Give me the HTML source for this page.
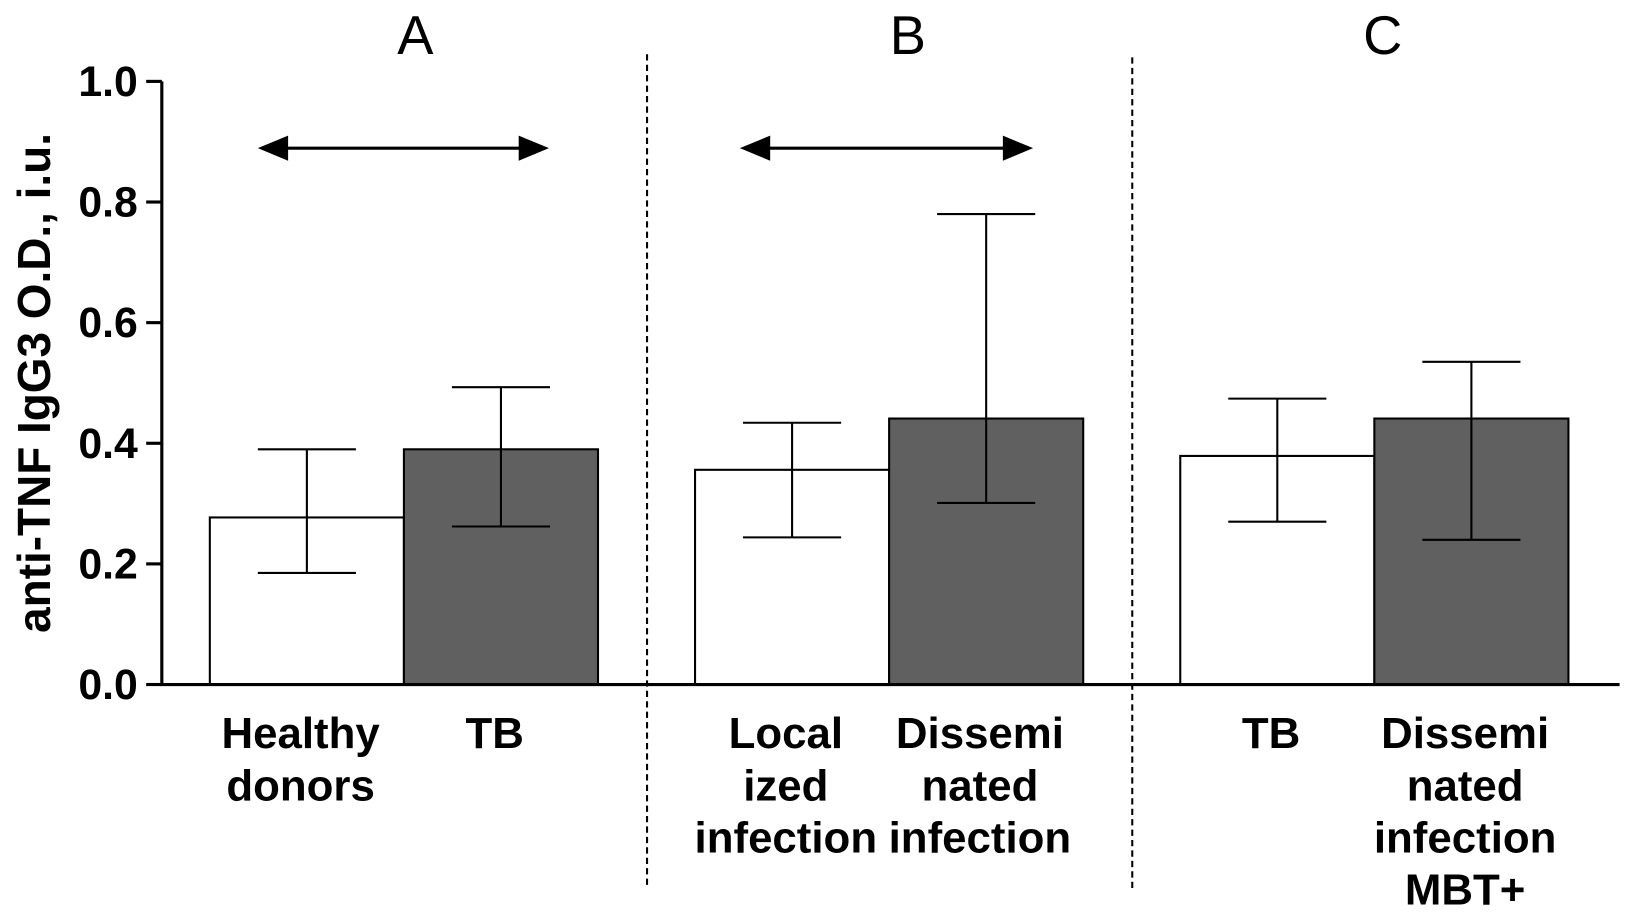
<!DOCTYPE html>
<html><head><meta charset="utf-8"><style>
html,body{margin:0;padding:0;background:#fff}
svg{display:block}
text{font-family:"Liberation Sans",Arial,sans-serif}
</style></head><body>
<svg id="chart" width="1628" height="912" viewBox="0 0 1560 874" xmlns="http://www.w3.org/2000/svg">
<g id="g"></g>
</svg>
<script>
const categories = ["Healthy donors","TB","Localized infection","Disseminated infection","TB","Disseminated infection MBT+"];
const labelLines = [["Healthy","donors"],["TB"],["Local","ized","infection"],["Dissemi","nated","infection"],["TB"],["Dissemi","nated","infection","MBT+"]];
const means = [0.277,0.39,0.356,0.441,0.379,0.441];
const errLow = [0.185,0.262,0.244,0.301,0.270,0.240];
const errHigh = [0.39,0.493,0.434,0.780,0.474,0.535];
const fills = ["#fff","#606060","#fff","#606060","#fff","#606060"];
const yTicks = [0,0.2,0.4,0.6,0.8,1.0];
const yTickLabels = ["0.0","0.2","0.4","0.6","0.8","1.0"];
const panels = ["A","B","C"];

const NS="http://www.w3.org/2000/svg";
const g=document.getElementById('g');
const y0=656, y1=78, axX=155;
const yS=v=>y0-(y0-y1)*v;
const barLeft=[201,387,666,852,1131,1317];
const bw=186;
function mk(t,a,txt){const e=document.createElementNS(NS,t);for(const k in a)e.setAttribute(k,a[k]);if(txt!==undefined)e.textContent=txt;g.appendChild(e);return e;}

means.forEach((m,i)=>{
  const r=mk('rect',{x:barLeft[i],y:yS(m),width:bw,height:y0-yS(m),fill:fills[i],stroke:'#000','stroke-width':2});
  
  
  const cx=barLeft[i]+bw/2;
  const e=mk('path',{d:`M${cx},${yS(errLow[i])}V${yS(errHigh[i])}M${cx-47},${yS(errHigh[i])}H${cx+47}M${cx-47},${yS(errLow[i])}H${cx+47}`,stroke:'#000','stroke-width':2,fill:'none'});
  
  
  labelLines[i].forEach((ln,j)=>{
    const t=mk('text',{x:cx-6,y:717+j*50,'text-anchor':'middle','font-size':42,'font-weight':'bold'},ln);
    
    
  });
});
const ax=mk('path',{d:`M${axX},${y1}V${y0}H1552`,stroke:'#000','stroke-width':3,fill:'none'});


yTicks.forEach((v,i)=>{
  mk('line',{x1:140,x2:axX,y1:yS(v),y2:yS(v),stroke:'#000','stroke-width':3});
  const t=mk('text',{x:132,y:yS(v)+14,'text-anchor':'end','font-size':41,'font-weight':'bold'},yTickLabels[i]);
  
  
});
const yt=mk('text',{x:0,y:0,transform:'translate(48,367) rotate(-90)','text-anchor':'middle','font-size':44,'font-weight':'bold'},'anti-TNF IgG3 O.D., i.u.');


[[620,52,850],[1085,55,852]].forEach(d=>{
  const l=mk('line',{x1:d[0],x2:d[0],y1:d[1],y2:d[2],stroke:'#000','stroke-width':2,'stroke-dasharray':'6,4'});
  
  
});
[398,870,1325].forEach((x,i)=>{
  const t=mk('text',{x:x,y:52,'text-anchor':'middle','font-size':52},panels[i]);
  
  
});
[[247,526],[709,990]].forEach(a=>{
  const y=142;
  const p=mk('path',{d:`M${a[0]+28},${y}H${a[1]-28}`,stroke:'#000','stroke-width':3});
  
  
  mk('polygon',{points:`${a[0]},${y} ${a[0]+29},${y-12} ${a[0]+29},${y+12}`,fill:'#000'});
  mk('polygon',{points:`${a[1]},${y} ${a[1]-29},${y-12} ${a[1]-29},${y+12}`,fill:'#000'});
});
</script>
</body></html>
